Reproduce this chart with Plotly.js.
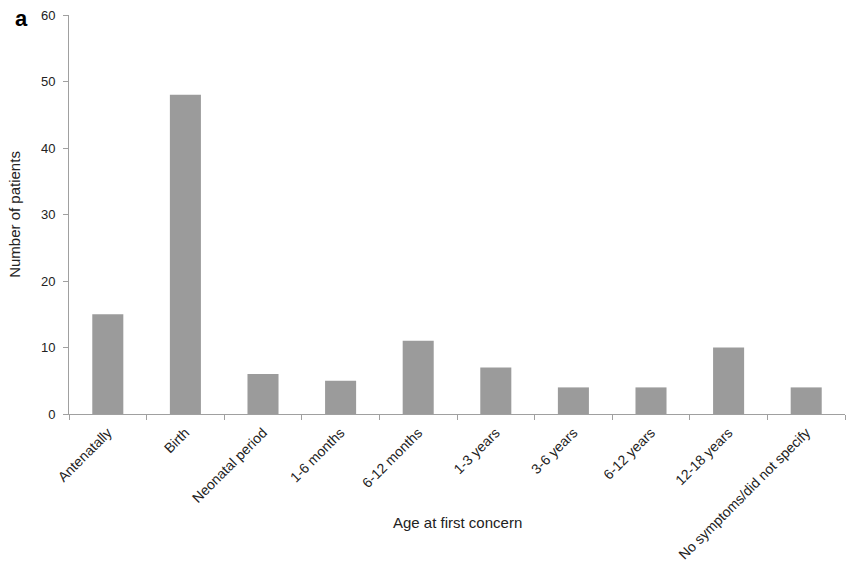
<!DOCTYPE html>
<html>
<head>
<meta charset="utf-8">
<script src="https://cdn.plot.ly/plotly-3.0.1.min.js"></script>
<style>html,body{margin:0;padding:0;background:#fff;}#chart{width:853px;height:564px;}</style>
</head>
<body>
<div id="chart"></div>
<script>
const categories = ["Antenatally", "Birth", "Neonatal period", "1-6 months", "6-12 months", "1-3 years", "3-6 years", "6-12 years", "12-18 years", "No symptoms/did not specify"];
const patients = [15, 48, 6, 5, 11, 7, 4, 4, 10, 4];
const yTicks = [0, 10, 20, 30, 40, 50, 60];

const font = {family: "Liberation Sans, Arial, sans-serif", color: "#222", size: 13};

Plotly.newPlot("chart", [{
  type: "bar",
  x: categories,
  y: patients,
  marker: {color: "#9b9b9b"},
  hoverinfo: "skip"
}], {
  width: 853, height: 564,
  margin: {l: 69, r: 8, t: 15, b: 150},
  bargap: 0.6,
  paper_bgcolor: "#fff", plot_bgcolor: "#fff",
  font: font,
  showlegend: false,
  xaxis: {
    type: "category",
    showline: true, linecolor: "#a0a0a0", linewidth: 1,
    ticks: "outside", tickson: "boundaries", ticklen: 5, tickcolor: "#a0a0a0",
    tickangle: -45, tickfont: {size: 14, color: "#222"}, ticklabelstandoff: 4,
    showgrid: false, zeroline: false
  },
  yaxis: {
    range: [0, 60], tickvals: yTicks,
    showline: true, linecolor: "#a0a0a0", linewidth: 1,
    ticks: "outside", ticklen: 5, tickcolor: "#a0a0a0",
    tickfont: {size: 13, color: "#222"}, ticklabelstandoff: 5,
    showgrid: false, zeroline: false,
    title: {text: "Number of patients", font: {size: 15, color: "#222"}, standoff: 16}
  },
  annotations: [{
    text: "<b>a</b>", xref: "paper", yref: "paper", x: -0.072, y: 0.99,
    xanchor: "left", yanchor: "middle", showarrow: false,
    font: {size: 22, color: "#000", family: "Liberation Sans, Arial, sans-serif"}
  }, {
    text: "Age at first concern", xref: "paper", yref: "paper", x: 0.5, y: -0.273,
    xanchor: "center", yanchor: "middle", showarrow: false,
    font: {size: 15, color: "#222", family: "Liberation Sans, Arial, sans-serif"}
  }]
}, {displayModeBar: false, staticPlot: true});
</script>
</body>
</html>
